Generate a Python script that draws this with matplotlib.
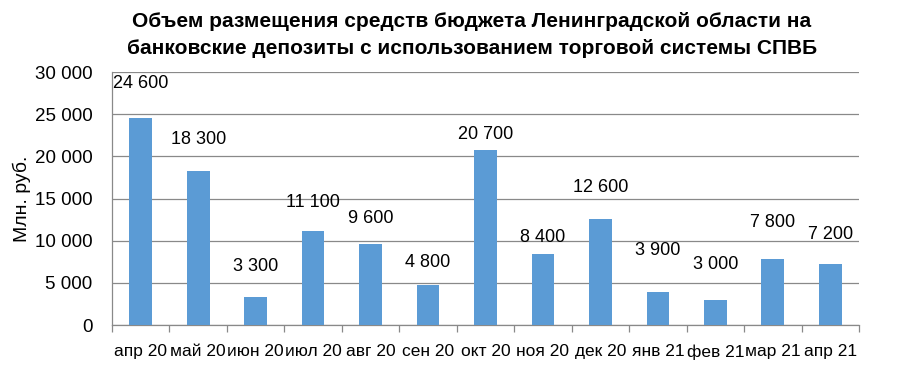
import numpy as np
import matplotlib.pyplot as plt
from matplotlib.ticker import FuncFormatter

plt.rcParams['font.family'] = ['Liberation Sans', 'DejaVu Sans']

# ── Данные ─────────────────────────────────────────────
months = ['апр 20', 'май 20', 'июн 20', 'июл 20', 'авг 20', 'сен 20', 'окт 20',
          'ноя 20', 'дек 20', 'янв 21', 'фев 21', 'мар 21', 'апр 21']
values = [24600, 18300, 3300, 11100, 9600, 4800, 20700,
          8400, 12600, 3900, 3000, 7800, 7200]
# высота подписей (в единицах оси), как в оригинале
label_y = [28600, 22050, 6880, 14470, 12690, 7470, 22650,
           10320, 16250, 8780, 7230, 12100, 10790]

title = ('Объем размещения средств бюджета Ленинградской области на\n'
         'банковские депозиты с использованием торговой системы СПВБ')

def fmt(v, pos=None):
    return f'{int(v):,}'.replace(',', ' ')

fig = plt.figure(figsize=(9.2, 3.69), dpi=100)
ax = fig.add_axes([0.1217, 0.1192, 0.8120, 0.6856])

x = np.arange(len(months))
ax.bar(x, values, width=0.395, color='#5B9BD5', zorder=3)

for xi, v, ly in zip(x, values, label_y):
    ax.text(xi, ly, fmt(v), ha='center', va='center', fontsize=13, color='black', zorder=4)

ax.set_xlim(-0.5, len(months) - 0.5)
ax.set_ylim(0, 30000)
ax.set_yticks(np.arange(0, 30001, 5000))
ax.yaxis.set_major_formatter(FuncFormatter(fmt))
ax.grid(axis='y', color='#898989', linewidth=0.9, zorder=0)

ax.set_xticks(x)
ax.set_xticklabels(months)
ax.set_xticks(np.arange(-0.5, len(months)), minor=True)
ax.tick_params(axis='x', which='major', length=0, pad=14, labelsize=12.5)
ax.tick_params(axis='x', which='minor', length=5, color='#898989', width=0.9)
ax.tick_params(axis='y', length=0, pad=14, labelsize=13.5)

for s in ['top', 'right']:
    ax.spines[s].set_visible(False)
for s in ['left', 'bottom']:
    ax.spines[s].set_color('#898989')
    ax.spines[s].set_linewidth(0.9)

ax.set_ylabel('Млн. руб.', fontsize=14)
ax.yaxis.set_label_coords(-0.108, 0.5)

fig.text(0.513, 0.905, title, ha='center', va='center', fontsize=15,
         fontweight='bold', linespacing=1.5)

fig.savefig('out.png', dpi=100)
